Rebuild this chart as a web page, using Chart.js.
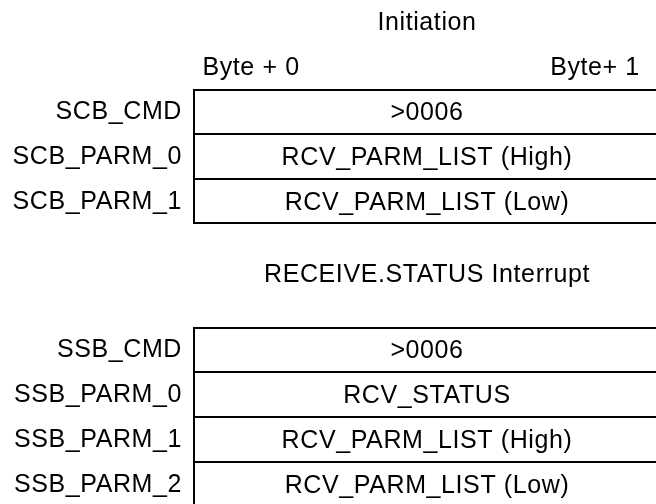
<!DOCTYPE html>
<html>
<head>
<meta charset="utf-8">
<script src="https://cdn.jsdelivr.net/npm/chart.js@4/dist/chart.umd.min.js"></script>
<style>
  html, body { margin: 0; padding: 0; background: #fff; overflow: hidden; width: 656px; height: 504px; }
  canvas { position: absolute; left: 0; }
  #c1 { top: 0; }
  #c2 { top: 230px; }
</style>
</head>
<body>
<canvas id="c1" width="664" height="228"></canvas>
<canvas id="c2" width="664" height="290"></canvas>
<script>
// ---- data ----
const initTitle = 'Initiation';
const byteHeaders = ['Byte + 0', 'Byte+ 1'];
const scbLabels = ['SCB_CMD', 'SCB_PARM_0', 'SCB_PARM_1'];
const scbSpans = [[0, 2], [0, 2], [0, 2]];          // each word spans byte 0 .. byte 2
const scbContents = ['>0006', 'RCV_PARM_LIST (High)', 'RCV_PARM_LIST (Low)'];

const intTitle = 'RECEIVE.STATUS Interrupt';
const ssbLabels = ['SSB_CMD', 'SSB_PARM_0', 'SSB_PARM_1', 'SSB_PARM_2'];
const ssbSpans = [[0, 2], [0, 2], [0, 2], [0, 2]];
const ssbContents = ['>0006', 'RCV_STATUS', 'RCV_PARM_LIST (High)', 'RCV_PARM_LIST (Low)'];

// ---- styling ----
const FONT = "'Liberation Sans', Arial, Helvetica, sans-serif";
const INK = '#000';
const SPACING = '0.6px';
Chart.defaults.font.family = FONT;
Chart.defaults.font.size = 25;
Chart.defaults.color = INK;
Chart.defaults.animation = false;

const spacingPlugin = {
  id: 'spacing',
  beforeUpdate(chart) { chart.ctx.letterSpacing = SPACING; },
  beforeDraw(chart) { chart.ctx.letterSpacing = SPACING; }
};

const cellTextPlugin = {
  id: 'cellText',
  afterDatasetsDraw(chart, args, opts) {
    const ctx = chart.ctx;
    const meta = chart.getDatasetMeta(0);
    ctx.save();
    ctx.font = '25px ' + FONT;
    ctx.letterSpacing = SPACING;
    ctx.fillStyle = INK;
    ctx.textAlign = 'center';
    ctx.textBaseline = 'middle';
    meta.data.forEach((bar, i) => {
      const p = bar.getProps(['x', 'y', 'base'], true);
      ctx.fillText(opts.texts[i], (p.x + p.base) / 2, p.y + 2);
    });
    ctx.restore();
  }
};

const noPad = (s) => { s.paddingTop = 0; s.paddingBottom = 0; s.paddingLeft = 0; s.paddingRight = 0; };

function makeChart(id, labels, spans, contents, title, titlePad, showHeader, padBottom) {
  const last = labels.length - 1;
  return new Chart(document.getElementById(id), {
    type: 'bar',
    data: {
      labels: labels,
      datasets: [{
        data: spans,
        backgroundColor: '#fff',
        borderColor: '#000',
        borderWidth: (c) => ({ left: 2, right: 2, top: c.dataIndex === 0 ? 2 : 1, bottom: c.dataIndex === last ? 2 : 1 }),
        borderSkipped: false,
        inflateAmount: 0,
        barPercentage: 1,
        categoryPercentage: 1
      }]
    },
    options: {
      indexAxis: 'y',
      responsive: false,
      events: [],
      layout: { padding: { left: 0, right: 3, top: 0, bottom: padBottom } },
      plugins: {
        legend: { display: false },
        tooltip: { enabled: false },
        title: {
          display: true, text: title, fullSize: false, color: INK,
          font: { size: 25, weight: 'normal', lineHeight: 1.2 },
          padding: titlePad
        },
        cellText: { texts: contents }
      },
      scales: {
        x: {
          type: 'linear', position: 'top', min: 0, max: 2,
          display: showHeader,
          grid: { display: false, drawTicks: false },
          border: { display: false },
          afterBuildTicks: (s) => { s.ticks = [{ value: 0.248 }, { value: 1.718 }]; },
          afterFit: noPad,
          ticks: {
            padding: 6, maxRotation: 0, autoSkip: false, color: INK,
            font: { size: 25, lineHeight: 1.2 },
            callback: (v, i) => byteHeaders[i]
          }
        },
        y: {
          type: 'category',
          grid: { display: false, drawTicks: false },
          border: { display: false },
          afterFit: (s) => { s.width = 193; noPad(s); },
          ticks: { padding: 11, labelOffset: 1, color: INK, font: { size: 25, lineHeight: 1.2 } }
        }
      }
    },
    plugins: [spacingPlugin, cellTextPlugin]
  });
}

makeChart('c1', scbLabels, scbSpans, scbContents, initTitle, { top: 8, bottom: 9 }, true, 4);
makeChart('c2', ssbLabels, ssbSpans, ssbContents, intTitle, { top: 30, bottom: 37 }, false, 13);
</script>
</body>
</html>
